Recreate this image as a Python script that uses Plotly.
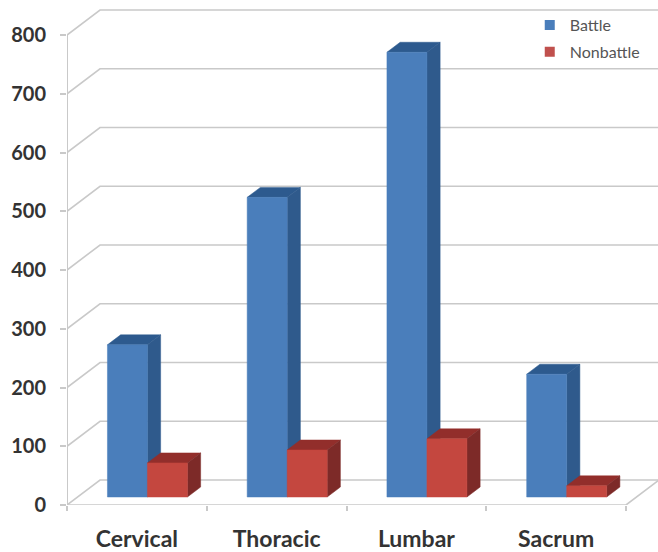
import plotly.graph_objects as go

categories = ["Cervical", "Thoracic", "Lumbar", "Sacrum"]
battle = [259, 510, 757, 209]
nonbattle = [58, 80, 99, 19]
y_ticks = [0, 100, 200, 300, 400, 500, 600, 700, 800]

# Oblique projection of the depth axis, in data units
DX = 33 / 139.75
DY = 25 / 0.5875
BAR_W = 40 / 139.75
D0, D1 = 0.32, 0.72

GRID = "#c9c9c9"
TEXT = "#333333"
LEGEND_TEXT = "#555555"
BLUE = ("#4a7ebb", "#2f5a8c", "#2d5a8e")
RED = ("#c4473f", "#7d2a28", "#922e2b")


def pr(c, v, d):
    return c + d * DX, v + d * DY


def poly(points, color):
    xs, ys = zip(*points)
    return go.Scatter(x=list(xs) + [xs[0]], y=list(ys) + [ys[0]], mode="lines", fill="toself",
                      fillcolor=color, line=dict(color=color, width=0.5),
                      hoverinfo="skip", showlegend=False)


def line(points, width=1.6):
    xs, ys = zip(*points)
    return go.Scatter(x=list(xs), y=list(ys), mode="lines", line=dict(color=GRID, width=width),
                      hoverinfo="skip", showlegend=False, cliponaxis=False)


def box(left, value, colors):
    right = left + BAR_W
    return [
        poly([pr(left, value, D0), pr(right, value, D0), pr(right, value, D1), pr(left, value, D1)], colors[2]),
        poly([pr(right, 0, D0), pr(right, 0, D1), pr(right, value, D1), pr(right, value, D0)], colors[1]),
        poly([pr(left, 0, D0), pr(right, 0, D0), pr(right, value, D0), pr(left, value, D0)], colors[0]),
    ]


fig = go.Figure()
n = len(categories)
for t in y_ticks:
    # diagonal on the side wall and horizontal on the back wall
    fig.add_trace(line([pr(0, t, 0), pr(0, t, 1), pr(n, t, 1)]))
# floor front edge and right-hand floor edge
fig.add_trace(line([pr(0, 0, 0), pr(n, 0, 0), pr(n, 0, 1)]))
# value axis stops at the top tick
fig.add_trace(line([pr(0, y_ticks[0], 0), pr(0, y_ticks[-1], 0)], width=2))

for i in range(n):
    start = i + 0.5 - BAR_W
    for tr in box(start, battle[i], BLUE):
        fig.add_trace(tr)
    for tr in box(start + BAR_W, nonbattle[i], RED):
        fig.add_trace(tr)

for name, col in (("Battle", "#4a7ebb"), ("Nonbattle", "#c0504d")):
    fig.add_trace(go.Scatter(x=[None], y=[None], mode="markers", name=name, legendgroup=name,
                             marker=dict(symbol="square", size=10, color=col)))

fig.update_layout(
    width=658, height=552, autosize=False,
    margin=dict(l=67, r=0, t=5, b=47, pad=0),
    paper_bgcolor="white", plot_bgcolor="white",
    font=dict(family="Lato, sans-serif", color=TEXT),
    legend=dict(x=0.783, y=0.994, xanchor="left", yanchor="top", bgcolor="rgba(0,0,0,0)",
                font=dict(size=16, color=LEGEND_TEXT, family="Lato, sans-serif"),
                tracegroupgap=3, itemwidth=30),
    xaxis=dict(range=[0, 591 / 139.75], showgrid=False, zeroline=False, showline=False,
               tickmode="array", tickvals=[i + 0.5 for i in range(n)], ticktext=categories,
               ticks="", ticklabelstandoff=18,
               tickfont=dict(size=23, family="Lato, sans-serif", weight="bold", color=TEXT),
               minor=dict(tickmode="array", tickvals=list(range(n + 1)), ticks="outside",
                          ticklen=5, tickcolor=GRID, tickwidth=1.5, showgrid=False)),
    yaxis=dict(range=[0, 500 / 0.5875], showgrid=False, zeroline=False, showline=False,
               tickmode="array", tickvals=y_ticks, ticks="outside", ticklen=6,
               tickcolor=GRID, tickwidth=1.5, ticklabelstandoff=10,
               tickfont=dict(size=20, family="Lato, sans-serif", weight="bold", color=TEXT)),
)

fig.write_html("out.html", config={"displayModeBar": False},
               post_script="document.body.style.margin='0';")
